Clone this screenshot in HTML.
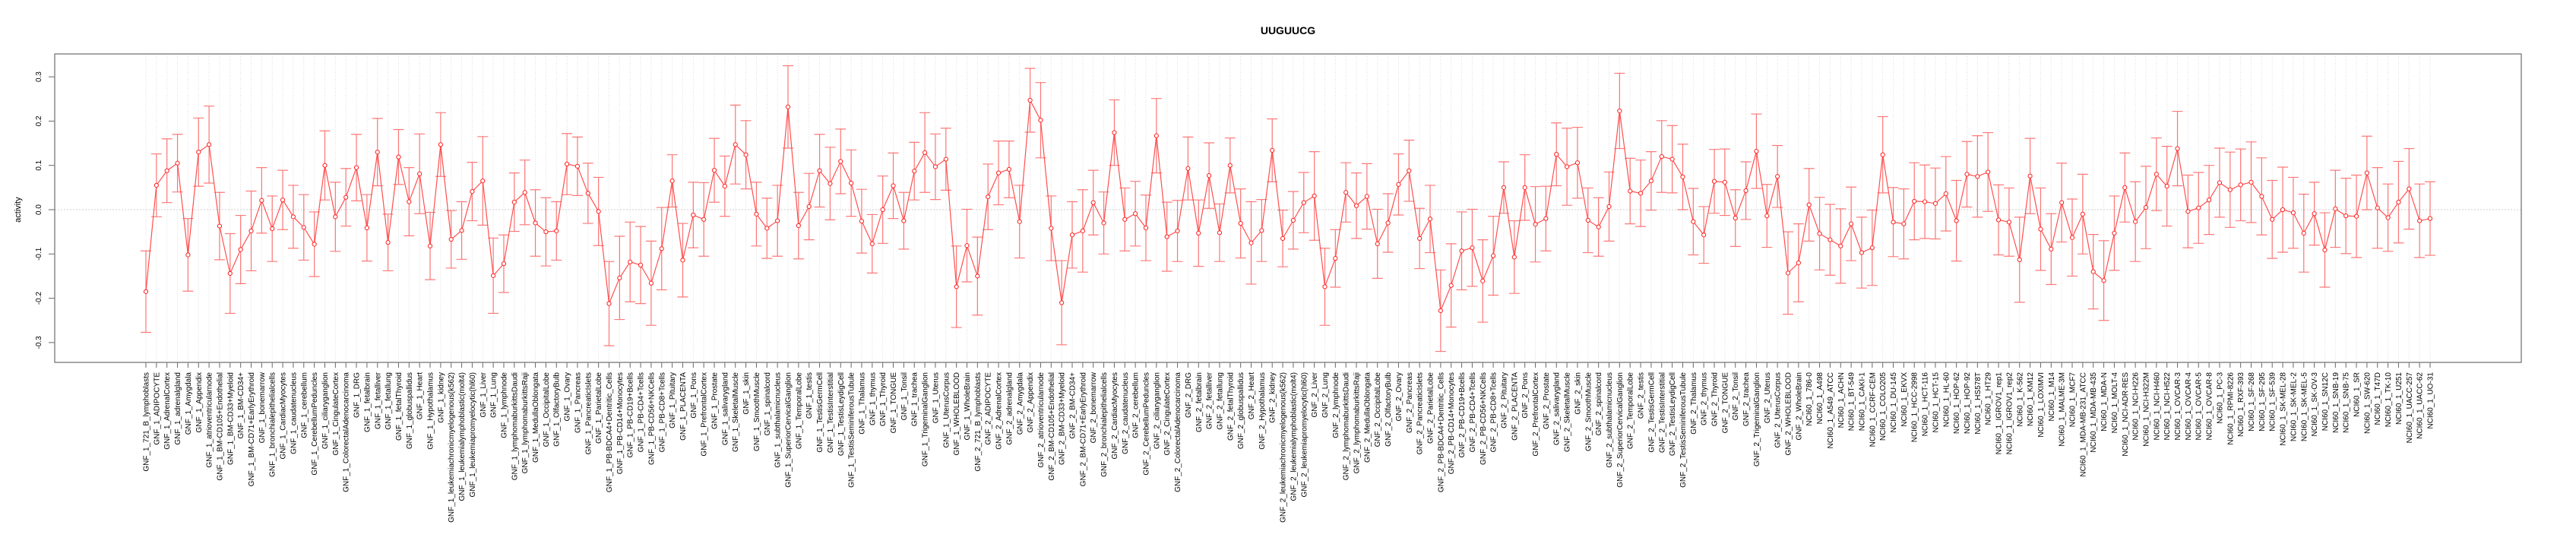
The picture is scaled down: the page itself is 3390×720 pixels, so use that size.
<!DOCTYPE html>
<html><head><meta charset="utf-8"><style>
html,body{margin:0;padding:0;background:#fff}
svg{display:block}
text{font-family:"Liberation Sans",sans-serif}
</style></head><body>
<svg id="chart" width="3390" height="720" xmlns="http://www.w3.org/2000/svg">
<text x="1695" y="45" text-anchor="middle" font-size="14" font-weight="bold">UUGUUCG</text>
<text transform="translate(27,276) rotate(-90)" text-anchor="middle" font-size="11">activity</text>
<g id="grid"></g>
<g id="yaxis"></g>
<g id="xaxis"></g>
<g id="series"></g>
<rect x="72" y="71" width="3246" height="406" fill="none" stroke="#888" stroke-width="1.5"/>
</svg>
<script>
const gnfTissues = ["721_B_lymphoblasts","ADIPOCYTE","AdrenalCortex","adrenalgland","Amygdala","Appendix","atrioventricularnode","BM-CD105+Endothelial","BM-CD33+Myeloid","BM-CD34+","BM-CD71+EarlyErythroid","bonemarrow","bronchialepithelialcells","CardiacMyocytes","caudatenucleus","cerebellum","CerebellumPeduncles","ciliaryganglion","CingulateCortex","ColorectalAdenocarcinoma","DRG","fetalbrain","fetalliver","fetallung","fetalThyroid","globuspallidus","Heart","Hypothalamus","kidney","leukemiachronicmyelogenous(k562)","leukemialymphoblastic(molt4)","leukemiapromyelocytic(hl60)","Liver","Lung","lymphnode","lymphomaburkittsDaudi","lymphomaburkittsRaji","MedullaOblongata","OccipitalLobe","OlfactoryBulb","Ovary","Pancreas","PancreaticIslets","ParietalLobe","PB-BDCA4+Dentritic_Cells","PB-CD14+Monocytes","PB-CD19+Bcells","PB-CD4+Tcells","PB-CD56+NKCells","PB-CD8+Tcells","Pituitary","PLACENTA","Pons","PrefrontalCortex","Prostate","salivarygland","SkeletalMuscle","skin","SmoothMuscle","spinalcord","subthalamicnucleus","SuperiorCervicalGanglion","TemporalLobe","testis","TestisGermCell","TestisInterstitial","TestisLeydigCell","TestisSeminiferousTubule","Thalamus","thymus","Thyroid","TONGUE","Tonsil","trachea","TrigeminalGanglion","Uterus","UterusCorpus","WHOLEBLOOD","WholeBrain"];
const nciLines = ["786-0","A498","A549_ATCC","ACHN","BT-549","CAKI-1","CCRF-CEM","COLO205","DU-145","EKVX","HCC-2998","HCT-116","HCT-15","HL-60","HOP-62","HOP-92","HS578T","HT29","IGROV1_rep1","IGROV1_rep2","K-562","KM12","LOXIMVI","M14","MALME-3M","MCF7","MDA-MB-231_ATCC","MDA-MB-435","MDA-N","MOLT-4","NCI-ADR-RES","NCI-H226","NCI-H322M","NCI-H460","NCI-H522","OVCAR-3","OVCAR-4","OVCAR-5","OVCAR-8","PC-3","RPMI-8226","RXF-393","SF-268","SF-295","SF-539","SK-MEL-28","SK-MEL-2","SK-MEL-5","SK-OV-3","SN12C","SNB-19","SNB-75","SR","SW-620","T47D","TK-10","U251","UACC-257","UACC-62","UO-31"];
const categories = gnfTissues.map(t=>"GNF_1_"+t).concat(gnfTissues.map(t=>"GNF_2_"+t), nciLines.map(t=>"NCI60_1_"+t));
const gnf1Means = [-0.185,0.055,0.088,0.105,-0.102,0.13,0.147,-0.037,-0.144,-0.09,-0.048,0.021,-0.043,0.022,-0.016,-0.04,-0.078,0.1,-0.016,0.028,0.095,-0.041,0.13,-0.074,0.119,0.018,0.081,-0.082,0.147,-0.067,-0.047,0.041,0.065,-0.149,-0.122,0.017,0.039,-0.03,-0.05,-0.048,0.103,0.098,0.037,-0.004,-0.212,-0.154,-0.118,-0.125,-0.166,-0.088,0.065,-0.114,-0.012,-0.022,0.089,0.053,0.147,0.124,-0.01,-0.042,-0.025,0.232,-0.036,0.007,0.088,0.059,0.109,0.06,-0.026,-0.077,0.0,0.054,-0.025,0.087,0.129,0.097,0.114,-0.174,-0.081];
const gnf1Errors = [0.092,0.071,0.072,0.065,0.082,0.077,0.087,0.076,0.09,0.077,0.09,0.074,0.074,0.067,0.071,0.074,0.073,0.078,0.078,0.065,0.075,0.075,0.076,0.064,0.062,0.077,0.09,0.076,0.072,0.065,0.065,0.066,0.1,0.085,0.065,0.066,0.073,0.075,0.077,0.066,0.069,0.066,0.068,0.077,0.095,0.094,0.09,0.087,0.095,0.093,0.059,0.083,0.074,0.083,0.072,0.068,0.089,0.077,0.072,0.068,0.08,0.093,0.075,0.075,0.082,0.082,0.073,0.075,0.072,0.066,0.076,0.074,0.064,0.065,0.09,0.074,0.07,0.092,0.082];
const gnf2Means = [-0.15,0.029,0.083,0.091,-0.027,0.247,0.202,-0.042,-0.21,-0.057,-0.048,0.016,-0.03,0.174,-0.022,-0.009,-0.041,0.167,-0.061,-0.048,0.093,-0.053,0.077,-0.052,0.1,-0.031,-0.075,-0.047,0.134,-0.065,-0.024,0.016,0.031,-0.174,-0.11,0.039,0.009,0.03,-0.077,-0.03,0.057,0.088,-0.065,-0.021,-0.228,-0.171,-0.093,-0.086,-0.161,-0.104,0.05,-0.107,0.05,-0.033,-0.02,0.125,0.097,0.106,-0.024,-0.039,0.007,0.223,0.042,0.037,0.065,0.12,0.114,0.074,-0.027,-0.057,0.064,0.062,-0.019,0.043,0.132,-0.014,0.075,-0.143,-0.12];
const gnf2Errors = [0.088,0.074,0.072,0.064,0.082,0.072,0.085,0.073,0.095,0.075,0.093,0.073,0.07,0.074,0.071,0.073,0.074,0.084,0.078,0.069,0.071,0.075,0.074,0.065,0.062,0.078,0.093,0.07,0.071,0.064,0.065,0.068,0.1,0.087,0.065,0.067,0.074,0.074,0.078,0.066,0.069,0.069,0.068,0.076,0.092,0.094,0.088,0.087,0.093,0.089,0.058,0.082,0.074,0.085,0.073,0.071,0.087,0.08,0.073,0.066,0.078,0.085,0.074,0.075,0.066,0.081,0.076,0.074,0.075,0.064,0.072,0.075,0.064,0.065,0.084,0.071,0.07,0.093,0.088];
const nciMeans = [0.011,-0.054,-0.068,-0.082,-0.032,-0.097,-0.086,0.124,-0.028,-0.032,0.019,0.018,0.014,0.036,-0.025,0.08,0.075,0.085,-0.023,-0.028,-0.113,0.076,-0.044,-0.089,0.016,-0.063,-0.01,-0.14,-0.16,-0.053,0.05,-0.027,0.005,0.08,0.053,0.138,-0.004,0.004,0.022,0.061,0.045,0.056,0.062,0.03,-0.022,0.0,-0.007,-0.053,-0.009,-0.091,0.002,-0.014,-0.015,0.083,0.004,-0.018,0.017,0.047,-0.025,-0.02];
const nciErrors = [0.082,0.082,0.08,0.084,0.083,0.08,0.085,0.086,0.078,0.079,0.087,0.083,0.08,0.084,0.091,0.074,0.092,0.089,0.079,0.077,0.096,0.085,0.093,0.08,0.089,0.087,0.09,0.084,0.09,0.084,0.078,0.09,0.093,0.082,0.09,0.084,0.082,0.08,0.078,0.078,0.085,0.081,0.091,0.087,0.088,0.096,0.08,0.088,0.071,0.084,0.087,0.085,0.093,0.083,0.091,0.076,0.092,0.091,0.083,0.083];
const yTicks = [0.3,0.2,0.1,0.0,-0.1,-0.2,-0.3];
const yTickLabels = ["0.3","0.2","0.1","0.0","-0.1","-0.2","-0.3"];

const means = gnf1Means.concat(gnf2Means, nciMeans);
const errors = gnf1Errors.concat(gnf2Errors, nciErrors);
const NS = "http://www.w3.org/2000/svg";
const n = categories.length;
function xPos(i){ return 192 + i * (3198 - 192) / (n - 1); }
function yPos(v){ return 276 - v * 583; }
function mk(tag, attrs, parent){ const e = document.createElementNS(NS, tag); for (const k in attrs) e.setAttribute(k, attrs[k]); parent.appendChild(e); return e; }

const grid = document.getElementById('grid');
const yaxis = document.getElementById('yaxis');
const xaxis = document.getElementById('xaxis');
const series = document.getElementById('series');

const zl = mk('line', {x1:72, x2:3318, y1:yPos(0), y2:yPos(0), stroke:'#ccc', 'stroke-dasharray':'2,2'}, grid);



yTicks.forEach((t, k) => {
  const y = yPos(t);
  const tl = mk('line', {x1:64, x2:72, y1:y, y2:y, stroke:'#666'}, yaxis);
  
  
  const tx = mk('text', {transform:`translate(54,${y}) rotate(-90)`, 'text-anchor':'middle', 'font-size':'10'}, yaxis);
  tx.textContent = yTickLabels[k];
  
  
});

categories.forEach((c, i) => {
  const x = xPos(i);
  const g = mk('line', {x1:x, x2:x, y1:71, y2:477, stroke:'#ddd', 'stroke-dasharray':'1,2'}, grid);
  
  
  const tk = mk('line', {x1:x, x2:x, y1:477, y2:484, stroke:'#666'}, xaxis);
  
  
  const tx = mk('text', {transform:`translate(${x+3.5},490) rotate(-90)`, 'text-anchor':'end', 'font-size':'10'}, xaxis);
  tx.textContent = c;
  
  
});

let d = '';
means.forEach((v, i) => { d += (i ? 'L' : 'M') + xPos(i).toFixed(2) + ',' + yPos(v).toFixed(2); });
const path = mk('path', {d:d, fill:'none', stroke:'#ff3030', 'stroke-width':'1.2', 'stroke-opacity':'0.85'}, series);



means.forEach((v, i) => {
  const x = xPos(i), lo = yPos(v - errors[i]), hi = yPos(v + errors[i]);
  const eb = mk('path', {d:`M${x},${lo}L${x},${hi}M${x-7},${lo}L${x+7},${lo}M${x-7},${hi}L${x+7},${hi}`, fill:'none', stroke:'#ff4040', 'stroke-width':'1.2', 'stroke-opacity':'0.7'}, series);
  
  
  const pt = mk('circle', {cx:x, cy:yPos(v), r:2.6, fill:'#fff', stroke:'#ff2020', 'stroke-width':'1'}, series);
  
  
});
</script>
</body></html>
